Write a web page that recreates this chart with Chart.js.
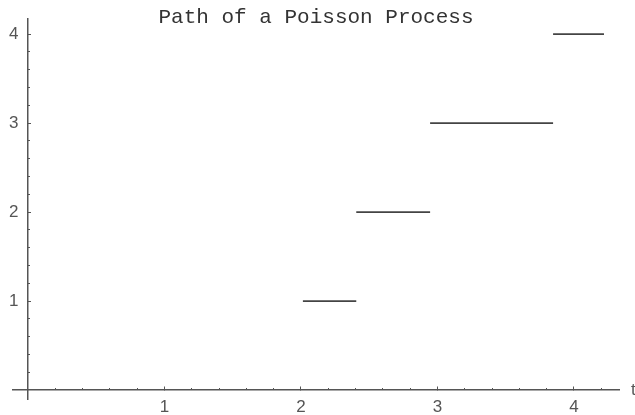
<!DOCTYPE html>
<html>
<head>
<meta charset="utf-8">
<title>Path of a Poisson Process</title>
<script src="https://cdn.jsdelivr.net/npm/chart.js@4/dist/chart.umd.min.js"></script>
<style>
  html, body { margin: 0; padding: 0; background: #fff; }
  #wrap { width: 635px; height: 415px; }
</style>
</head>
<body>
<div id="wrap"><canvas id="path" width="635" height="415"></canvas></div>
<script>
// jump times of the counting process, the count held after each jump,
// and the time where the last step stops
const jumpTimes = [2.014, 2.405, 2.946, 3.847];
const counts = [1, 2, 3, 4];
const endTime = 4.22;

const xTicks = [1, 2, 3, 4];
const yTicks = [1, 2, 3, 4];

// plot range (axes cross at the origin)
const xRange = [-0.11, 4.33];
const yRange = [-0.1, 4.17];

const axisColor = '#555';
const labelFont = {family: '"Liberation Sans", Arial, sans-serif', size: 17};

// minor marks every 0.2 between the labelled ones
function minorTicks(lo, hi){
  const out = [];
  for(let i = Math.ceil(lo * 5); i <= Math.floor(hi * 5); i++){
    if(i % 5 !== 0) out.push(i / 5);
  }
  return out;
}

const segments = jumpTimes.map((t, i) => ({
  data: [
    {x: t, y: counts[i]},
    {x: i + 1 < jumpTimes.length ? jumpTimes[i + 1] : endTime, y: counts[i]}
  ],
  showLine: true,
  borderColor: '#444',
  borderWidth: 1.6,
  pointRadius: 0,
  xAxisID: 'x',
  yAxisID: 'y'
}));

// the "t" next to the end of the horizontal axis
const axisName = {
  id: 'axisName',
  afterDraw(chart){
    const {ctx, scales} = chart;
    ctx.save();
    ctx.font = '17px "Liberation Sans", Arial, sans-serif';
    ctx.fillStyle = '#555';
    ctx.textBaseline = 'middle';
    ctx.textAlign = 'left';
    ctx.fillText('t', scales.x.right + 12, scales.y.getPixelForValue(0));
    ctx.restore();
  }
};

function majorAxis(ticks, range, pos, pad, label){
  return {
    type: 'linear',
    position: pos,
    min: range[0],
    max: range[1],
    afterBuildTicks: s => { s.ticks = ticks.map(v => ({value: v})); },
    grid: {drawOnChartArea: false, drawTicks: true, tickLength: -4, tickColor: axisColor, tickWidth: 1},
    border: {display: true, color: axisColor, width: 1.5},
    ticks: {font: labelFont, color: '#555', padding: pad, callback: label}
  };
}

function minorAxis(range, pos){
  return {
    type: 'linear',
    position: pos,
    min: range[0],
    max: range[1],
    afterBuildTicks: s => { s.ticks = minorTicks(0, range[1]).map(v => ({value: v})); },
    grid: {drawOnChartArea: false, drawTicks: true, tickLength: -2, tickColor: axisColor, tickWidth: 1},
    border: {display: false},
    ticks: {display: false}
  };
}

new Chart(document.getElementById('path'), {
  type: 'scatter',
  data: {datasets: segments},
  options: {
    responsive: false,
    animation: false,
    events: [],
    layout: {padding: {left: 13, right: 16, top: 0, bottom: 16}},
    scales: {
      x: majorAxis(xTicks, xRange, {y: 0}, 11, v => String(v)),
      // trailing spaces keep the count labels clear of the axis line
      y: majorAxis(yTicks, yRange, {x: 0}, 0, v => v + '  '),
      xMinor: minorAxis(xRange, {y: 0}),
      yMinor: minorAxis(yRange, {x: 0})
    },
    plugins: {
      legend: {display: false},
      tooltip: {enabled: false},
      title: {
        display: true,
        text: 'Path of a Poisson Process',
        font: {family: '"Liberation Mono", "Courier New", monospace', size: 21, weight: 'normal'},
        color: '#333',
        padding: {top: 5, bottom: -11.2}
      }
    }
  },
  plugins: [axisName]
});
</script>
</body>
</html>
